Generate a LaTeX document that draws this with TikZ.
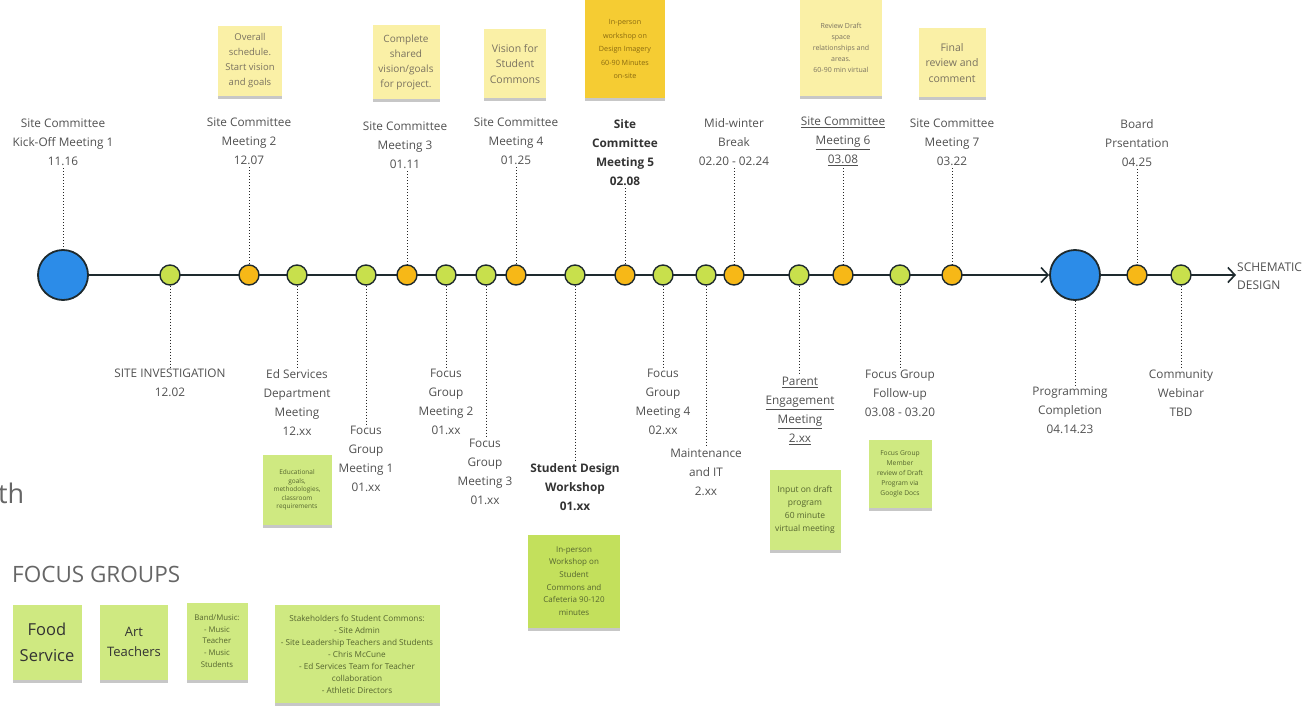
\documentclass[tikz,border=0pt]{standalone}
\usepackage{fontspec}
\setmainfont{Open Sans}
\usetikzlibrary{arrows.meta,shadows,backgrounds}
\definecolor{labc}{HTML}{505050}
\definecolor{boldc}{HTML}{333333}
\definecolor{linec}{HTML}{1E2A2E}
\definecolor{limec}{HTML}{C8E04C}
\definecolor{orangec}{HTML}{F7B817}
\definecolor{bluec}{HTML}{2C8CE8}
\definecolor{ynotec}{HTML}{FAF0A6}
\definecolor{gnotec}{HTML}{CFE981}
\definecolor{gnotec2}{HTML}{C3E05C}
\definecolor{goldnotec}{HTML}{F5CC33}
\definecolor{ytextc}{HTML}{7A7260}
\definecolor{gtextc}{HTML}{55652F}
\definecolor{goldtextc}{HTML}{8A6A10}
\definecolor{thc}{HTML}{666666}
\begin{document}
\begin{tikzpicture}[x=1pt,y=-1pt,
  lbl/.style={font=\fontsize{11.8}{19}\selectfont, text=labc, align=center, inner sep=2pt},
  blbl/.style={lbl, font=\fontsize{11.8}{19}\selectfont\bfseries, text=boldc},
  dotline/.style={dotted, line width=1pt, black!85},
  gdot/.style={circle, draw=linec, line width=1.4pt, fill=limec, minimum size=20pt, inner sep=0},
  odot/.style={gdot, fill=orangec},
  bdot/.style={gdot, fill=bluec, line width=1.8pt, minimum size=50pt},
  notebase/.style={align=center, inner sep=0, drop shadow={shadow xshift=0pt, shadow yshift=-3pt, opacity=0.22, fill=black}},
  ynote/.style={notebase, fill=ynotec, text=ytextc},
  gnote/.style={notebase, fill=gnotec, text=gtextc},
  tl/.style={line width=2.2pt, linec},
  arr/.style={-{Straight Barb[length=7pt,width=15pt,line width=1.6pt]}}
]
\useasboundingbox (0,0) rectangle (1306,706);

% timeline circles
\node[bdot] (c0) at (63,275) {};
\node[gdot] (c1) at (170,275) {};
\node[odot] (c2) at (249,275) {};
\node[gdot] (c3) at (297,275) {};
\node[gdot] (c4) at (366,275) {};
\node[odot] (c5) at (407,275) {};
\node[gdot] (c6) at (446,275) {};
\node[gdot] (c7) at (486,275) {};
\node[odot] (c8) at (516,275) {};
\node[gdot] (c9) at (575,275) {};
\node[odot] (c10) at (625,275) {};
\node[gdot] (c11) at (663,275) {};
\node[gdot] (c12) at (706,275) {};
\node[odot] (c13) at (734,275) {};
\node[gdot] (c14) at (799,275) {};
\node[odot] (c15) at (843,275) {};
\node[gdot] (c16) at (900,275) {};
\node[odot] (c17) at (952,275) {};
\node[bdot] (c18) at (1075,275) {};
\node[odot] (c19) at (1137,275) {};
\node[gdot] (c20) at (1181,275) {};
\coordinate (endp) at (1236,275);

\begin{pgfonlayer}{background}
\draw[tl,arr] (c0.east) -- (c18.west);
\draw[tl,arr] (c18.east) -- (endp);
\end{pgfonlayer}

\node[anchor=west, font=\fontsize{12}{18}\selectfont, text=labc, align=left, inner sep=0] (sd) at (1237,276) {SCHEMATIC\\DESIGN};

% top labels
\node[lbl, anchor=south] (t0) at (63,168) {Site Committee\\Kick-Off Meeting 1\\11.16};
\node[lbl, anchor=south] (t2) at (249,167) {Site Committee\\Meeting 2\\12.07};
\node[lbl, anchor=south] (t5) at (405,171) {Site Committee\\Meeting 3\\01.11};
\node[lbl, anchor=south] (t8) at (516,167) {Site Committee\\Meeting 4\\01.25};
\node[blbl, anchor=south] (t10) at (625,188) {Site\\Committee\\Meeting 5\\02.08};
\node[lbl, anchor=south] (t13) at (734,168) {Mid-winter\\Break\\02.20 - 02.24};
\node[lbl, anchor=south] (t15) at (843,168) {\underline{Site Committee}\\\underline{Meeting 6}\\\underline{03.08}};
\node[lbl, anchor=south] (t17) at (952,168) {Site Committee\\Meeting 7\\03.22};
\node[lbl, anchor=south] (t19) at (1137,169) {Board\\Prsentation\\04.25};

\foreach \c/\t in {c0/t0,c2/t2,c5/t5,c8/t8,c10/t10,c13/t13,c15/t15,c17/t17,c19/t19}
  \draw[dotline] (\c.north |- \t.south) -- (\c.north);

% bottom labels
\node[lbl, anchor=north] (u1) at (170,367) {SITE INVESTIGATION\\12.02};
\node[lbl, anchor=north] (u3) at (297,367) {Ed Services\\Department\\Meeting\\12.xx};
\node[lbl, anchor=north] (u4) at (366,424) {Focus\\Group\\Meeting 1\\01.xx};
\node[lbl, anchor=north] (u6) at (446,367) {Focus\\Group\\Meeting 2\\01.xx};
\node[lbl, anchor=north] (u7) at (485,437) {Focus\\Group\\Meeting 3\\01.xx};
\node[blbl, anchor=north] (u9) at (575,461) {Student Design\\Workshop\\01.xx};
\node[lbl, anchor=north] (u11) at (663,367) {Focus\\Group\\Meeting 4\\02.xx};
\node[lbl, anchor=north] (u12) at (706,447) {Maintenance\\and IT\\2.xx};
\node[lbl, anchor=north] (u14) at (800,375) {\underline{Parent}\\\underline{Engagement}\\\underline{Meeting}\\\underline{2.xx}};
\node[lbl, anchor=north] (u16) at (900,368) {Focus Group\\Follow-up\\03.08 - 03.20};
\node[lbl, anchor=north] (u18) at (1070,385) {Programming\\Completion\\04.14.23};
\node[lbl, anchor=north] (u20) at (1181,368) {Community\\Webinar\\TBD};

\foreach \c/\u in {c1/u1,c3/u3,c4/u4,c6/u6,c7/u7,c9/u9,c11/u11,c12/u12,c14/u14,c16/u16,c18/u18,c20/u20}
  \draw[dotline] (\c.south) -- (\c.south |- \u.north);

% top sticky notes
\node[ynote, minimum width=64, minimum height=70, font=\fontsize{9.5}{15}\selectfont] (s1) at (250,61) {Overall\\schedule.\\Start vision\\and goals};
\node[ynote, minimum width=67, minimum height=74, font=\fontsize{10}{15}\selectfont] (s2) at (406,62) {Complete\\shared\\vision/goals\\for project.};
\node[ynote, minimum width=62, minimum height=69, font=\fontsize{10.5}{15.5}\selectfont] (s3) at (515,64) {Vision for\\Student\\Commons};
\node[notebase, fill=goldnotec, text=goldtextc, minimum width=80, minimum height=98, font=\fontsize{7.2}{13.5}\selectfont] (s4) at (625,49) {In-person\\workshop on\\Design Imagery\\60-90 Minutes\\on-site};
\node[ynote, minimum width=82, minimum height=96, font=\fontsize{7}{11}\selectfont] (s5) at (841,48) {Review Draft\\space\\relationships and\\areas.\\60-90 min virtual};
\node[ynote, minimum width=67, minimum height=69, font=\fontsize{10.5}{15.5}\selectfont] (s6) at (952,63) {Final\\review and\\comment};

% bottom sticky notes
\node[gnote, minimum width=69, minimum height=70, font=\fontsize{6.5}{8.6}\selectfont] (b1) at (297,490) {Educational\\goals,\\methodologies,\\classroom\\requirements};
\node[gnote, fill=gnotec2, minimum width=92, minimum height=93, font=\fontsize{8}{12.7}\selectfont] (b2) at (574,581) {In-person\\Workshop on\\Student\\Commons and\\Cafeteria 90-120\\minutes};
\node[gnote, minimum width=71, minimum height=80, font=\fontsize{8.5}{13}\selectfont] (b3) at (805,510) {Input on draft\\program\\60 minute\\virtual meeting};
\node[gnote, minimum width=63, minimum height=68, font=\fontsize{6.7}{10}\selectfont] (b4) at (900,474) {Focus Group\\Member\\review of Draft\\Program via\\Google Docs};

% left side
\node[anchor=west, font=\fontsize{27}{30}\selectfont, text=thc, inner sep=0] (th) at (-2,493) {th};
\node[anchor=west, font=\fontsize{22.5}{26}\selectfont, text=thc, inner sep=0] (fg) at (12,574) {FOCUS GROUPS};

% focus group notes
\node[gnote, text=boldc, minimum width=69, minimum height=75, font=\fontsize{16.5}{26}\selectfont] (f1) at (47,642) {Food\\Service};
\node[gnote, text=boldc, minimum width=68, minimum height=75, font=\fontsize{13}{20}\selectfont] (f2) at (134,642) {Art\\Teachers};
\node[gnote, minimum width=61, minimum height=77, font=\fontsize{7.8}{11.7}\selectfont] (f3) at (217,641) {Band/Music:\\- Music\\Teacher\\- Music\\Students};
\node[gnote, minimum width=165, minimum height=98, font=\fontsize{8.2}{12}\selectfont] (f4) at (357,654) {Stakeholders fo Student Commons:\\- Site Admin\\- Site Leadership Teachers and Students\\- Chris McCune\\- Ed Services Team for Teacher\\collaboration\\- Athletic Directors};
\end{tikzpicture}
\end{document}
